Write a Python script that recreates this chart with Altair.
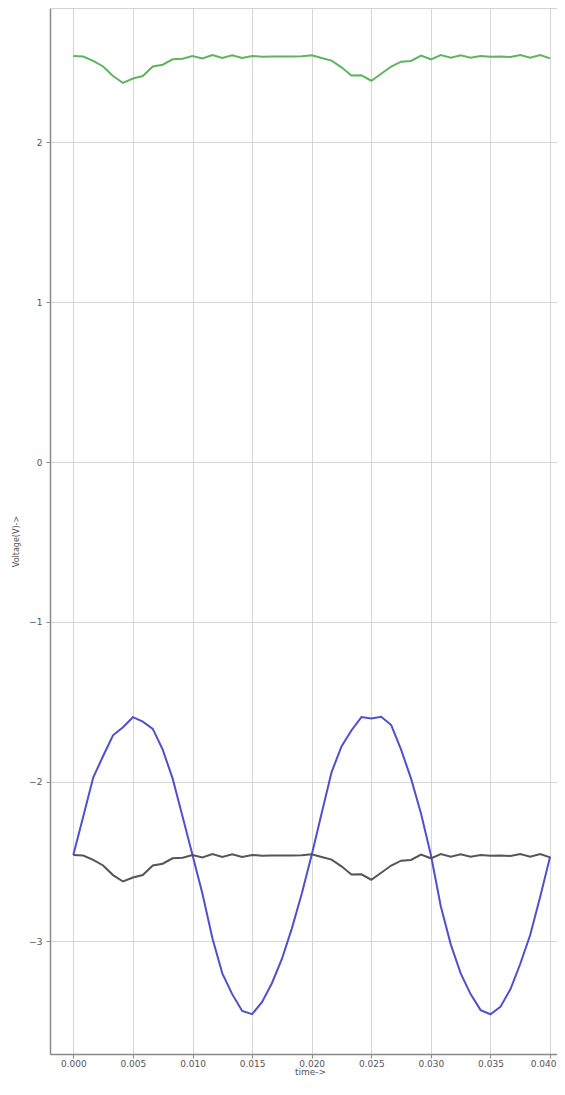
import altair as alt
import pandas as pd

time = [0.00000, 0.00083, 0.00167, 0.00250, 0.00333, 0.00417, 0.00500, 0.00583, 0.00667, 0.00750,
        0.00833, 0.00917, 0.01000, 0.01083, 0.01167, 0.01250, 0.01333, 0.01417, 0.01500, 0.01583,
        0.01667, 0.01750, 0.01833, 0.01917, 0.02000, 0.02083, 0.02167, 0.02250, 0.02333, 0.02417,
        0.02500, 0.02583, 0.02667, 0.02750, 0.02833, 0.02917, 0.03000, 0.03083, 0.03167, 0.03250,
        0.03333, 0.03417, 0.03500, 0.03583, 0.03667, 0.03750, 0.03833, 0.03917, 0.04000]

green = [2.541, 2.537, 2.510, 2.475, 2.415, 2.372, 2.400, 2.415, 2.475, 2.486,
         2.520, 2.524, 2.541, 2.526, 2.547, 2.528, 2.545, 2.528, 2.541, 2.536,
         2.538, 2.537, 2.538, 2.539, 2.545, 2.528, 2.512, 2.470, 2.418, 2.420,
         2.386, 2.430, 2.475, 2.505, 2.510, 2.543, 2.520, 2.547, 2.530, 2.545,
         2.530, 2.541, 2.536, 2.537, 2.535, 2.547, 2.530, 2.547, 2.526]

blue = [-2.459, -2.220, -1.975, -1.840, -1.710, -1.660, -1.597, -1.625, -1.670, -1.800,
        -1.980, -2.220, -2.460, -2.700, -2.980, -3.200, -3.330, -3.435, -3.455, -3.380,
        -3.260, -3.110, -2.920, -2.700, -2.459, -2.200, -1.940, -1.780, -1.680, -1.596,
        -1.605, -1.594, -1.646, -1.800, -1.980, -2.200, -2.459, -2.780, -3.020, -3.200,
        -3.330, -3.430, -3.456, -3.410, -3.300, -3.140, -2.960, -2.720, -2.470]

black = [-2.459, -2.463, -2.490, -2.525, -2.585, -2.625, -2.600, -2.585, -2.525, -2.514,
         -2.480, -2.476, -2.459, -2.474, -2.453, -2.472, -2.455, -2.472, -2.459, -2.464,
         -2.462, -2.463, -2.462, -2.461, -2.455, -2.472, -2.488, -2.530, -2.582, -2.580,
         -2.614, -2.570, -2.525, -2.495, -2.490, -2.457, -2.480, -2.453, -2.470, -2.455,
         -2.470, -2.459, -2.464, -2.463, -2.465, -2.453, -2.470, -2.453, -2.474]

series_names = ["green", "blue", "black"]
series_colors = ["#5db55d", "#5050cc", "#555555"]
x_ticks = [0.0, 0.005, 0.010, 0.015, 0.020, 0.025, 0.030, 0.035, 0.040]
y_ticks = [-3, -2, -1, 0, 1, 2]

rows = []
for name, vals in zip(series_names, [green, blue, black]):
    for t, v in zip(time, vals):
        rows.append({"time": t, "voltage": v, "series": name})
df = pd.DataFrame(rows)

W, H = 507, 1046
FONT = "DejaVu Sans"

lines = alt.Chart(df).mark_line(strokeWidth=2, clip=True).encode(
    x=alt.X("time:Q",
            scale=alt.Scale(domain=[-0.001955, 0.040579], nice=False, zero=False),
            axis=alt.Axis(values=x_ticks, format=".3f", title="time->",
                          grid=True, gridColor="#d6d6d6", gridWidth=1,
                          domainColor="#8a8a8a", domainWidth=1.5,
                          tickColor="#8a8a8a", tickSize=4,
                          labelFont=FONT, labelFontSize=9, labelColor="#555555",
                          labelPadding=1,
                          labelOffset={"condition": {"test": "datum.value >= 0.039", "value": -7},
                                       "value": 0},
                          titleFont=FONT, titleFontSize=9, titleFontWeight="normal",
                          titleColor="#555555", titleX=260, titleY=20,
                          titleBaseline="alphabetic")),
    y=alt.Y("voltage:Q",
            scale=alt.Scale(domain=[-3.7046, 2.8411], nice=False, zero=False),
            axis=alt.Axis(values=y_ticks, format="d", title="Voltage(V)->",
                          grid=True, gridColor="#d6d6d6", gridWidth=1,
                          domainColor="#8a8a8a", domainWidth=1.5,
                          tickColor="#8a8a8a", tickSize=4,
                          labelFont=FONT, labelFontSize=9, labelColor="#555555",
                          labelPadding=4,
                          titleFont=FONT, titleFontSize=8, titleFontWeight="normal",
                          titleColor="#555555", titleX=-34, titleY=533,
                          titleAngle=270, titleBaseline="middle")),
    color=alt.Color("series:N", scale=alt.Scale(domain=series_names, range=series_colors),
                    legend=None),
    detail="series:N",
)

top_line = alt.Chart(pd.DataFrame({"a": [0]})).mark_rule(color="#cfcfcf", strokeWidth=1.5).encode(
    x=alt.value(0), x2=alt.value(W), y=alt.value(0)
)

chart = alt.layer(top_line, lines).properties(
    width=W, height=H,
    autosize=alt.AutoSizeParams(type="none"),
    padding={"left": 42, "top": 0, "right": 0, "bottom": 22},
).configure_view(stroke=None).configure(background="white")

chart.save("out.html", embed_options={"renderer": "svg", "actions": False})
